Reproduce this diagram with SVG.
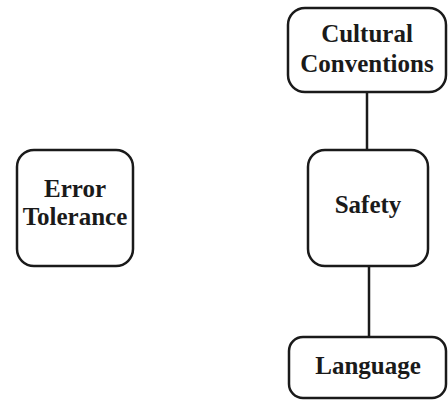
<svg xmlns="http://www.w3.org/2000/svg" width="448" height="402" viewBox="0 0 448 402">
<style>
.box{fill:#fff;stroke:#1a1a1a;stroke-width:2.5}
.lbl{font-family:"Liberation Serif","Times New Roman",serif;font-weight:bold;font-size:25px;fill:#1a1a1a;text-anchor:middle}
.edge{stroke:#1a1a1a;stroke-width:2.5;fill:none}
</style>
<rect width="448" height="402" fill="#fff"/>
<g id="connectors">
<line class="edge" x1="367" y1="92" x2="367" y2="150"/>
<line class="edge" x1="369" y1="266" x2="369" y2="337"/>
</g>
<g id="cultural">
<rect class="box" x="288" y="8" width="158" height="84" rx="17"/>
<text class="lbl" x="367" y="42">Cultural</text>
<text class="lbl" x="367" y="72">Conventions</text>
</g>
<g id="error">
<rect class="box" x="17" y="150" width="116" height="116" rx="17"/>
<text class="lbl" x="75" y="197">Error</text>
<text class="lbl" x="75" y="225">Tolerance</text>
</g>
<g id="safety">
<rect class="box" x="308" y="150" width="120" height="116" rx="17"/>
<text class="lbl" x="368" y="213">Safety</text>
</g>
<g id="language">
<rect class="box" x="289" y="337" width="157" height="61" rx="14"/>
<text class="lbl" x="368" y="374">Language</text>
</g>
</svg>
